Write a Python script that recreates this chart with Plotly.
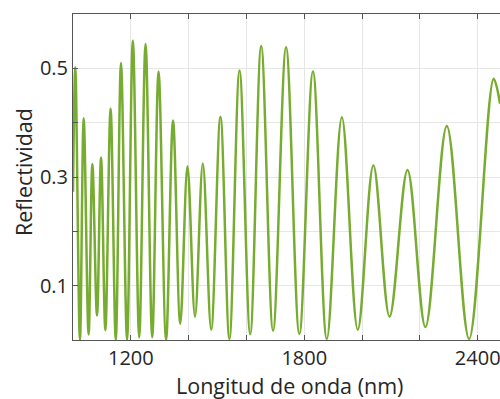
import plotly.graph_objects as go

# Extrema of the reflectivity curve (nm, reflectivity)
wavelength_nm = [1000, 1008, 1024, 1037, 1054, 1067, 1083, 1097, 1112, 1130,
                 1148, 1166, 1187, 1207, 1229, 1251, 1274, 1296, 1322, 1346,
                 1371, 1396, 1422, 1449, 1478, 1510, 1541, 1576, 1613, 1651,
                 1692, 1737, 1783, 1830, 1878, 1930, 1985, 2039, 2095, 2157,
                 2219, 2293, 2370, 2455, 2477]
reflectivity = [0.273, 0.502, 0.0, 0.408, 0.010, 0.324, 0.045, 0.336, 0.018, 0.426,
                0.0, 0.510, 0.0, 0.551, 0.005, 0.545, 0.005, 0.494, 0.0, 0.404,
                0.030, 0.320, 0.043, 0.325, 0.019, 0.411, 0.002, 0.496, 0.011, 0.541,
                0.017, 0.539, 0.011, 0.494, 0.002, 0.410, 0.019, 0.321, 0.043, 0.313,
                0.024, 0.394, 0.002, 0.481, 0.435]

x_tickvals = [1000, 1200, 1400, 1600, 1800, 2000, 2200, 2400]
x_ticktext = ["", "1200", "", "", "1800", "", "", "2400"]
y_tickvals = [0.0, 0.1, 0.2, 0.3, 0.4, 0.5, 0.6]
y_ticktext = ["", "0.1", "", "0.3", "", "0.5", ""]

FONT = "Open Sans"
TXT = "#262626"
AX = "#555555"
fig = go.Figure(go.Scatter(
    x=wavelength_nm, y=reflectivity, mode="lines",
    line=dict(color="#77AC30", width=2.5, shape="spline", smoothing=1.0),
    hoverinfo="skip"))

fig.update_layout(
    width=500, height=399,
    margin=dict(l=73, r=0, t=14, b=59, autoexpand=False),
    paper_bgcolor="white", plot_bgcolor="white",
    showlegend=False,
    font=dict(family=FONT, color=TXT),
    annotations=[
        dict(text="Longitud de onda (nm)", xref="paper", yref="paper",
             x=(289 - 73) / 427, y=-(385.5 - 340) / 326, xanchor="center", yanchor="middle",
             showarrow=False, font=dict(size=21.5, color=TXT)),
        dict(text="Reflectividad", xref="paper", yref="paper",
             x=-(73 - 23) / 427, y=(340 - 172) / 326, xanchor="center", yanchor="middle",
             textangle=-90, showarrow=False, font=dict(size=21.5, color=TXT)),
    ],
)
fig.update_xaxes(
    range=[1000, 2477], tickmode="array", tickvals=x_tickvals, ticktext=x_ticktext,
    ticks="inside", ticklen=5, tickcolor=AX, tickfont=dict(size=20, color=TXT),
    ticklabeloverflow="allow",
    showline=True, linecolor=AX, linewidth=1, mirror="ticks",
    showgrid=True, gridcolor="#e6e6e6", gridwidth=1, zeroline=False,
    automargin=False,
)
fig.update_yaxes(
    range=[0, 0.6], tickmode="array", tickvals=y_tickvals, ticktext=y_ticktext,
    ticks="inside", ticklen=5, tickcolor=AX, tickfont=dict(size=20, color=TXT),
    showline=True, linecolor=AX, linewidth=1,
    showgrid=True, gridcolor="#e6e6e6", gridwidth=1, zeroline=False,
    automargin=False,
)
fig.write_html("out.html", config={"displayModeBar": False},
               post_script="document.body.style.margin='0px';document.body.style.overflow='hidden';")
